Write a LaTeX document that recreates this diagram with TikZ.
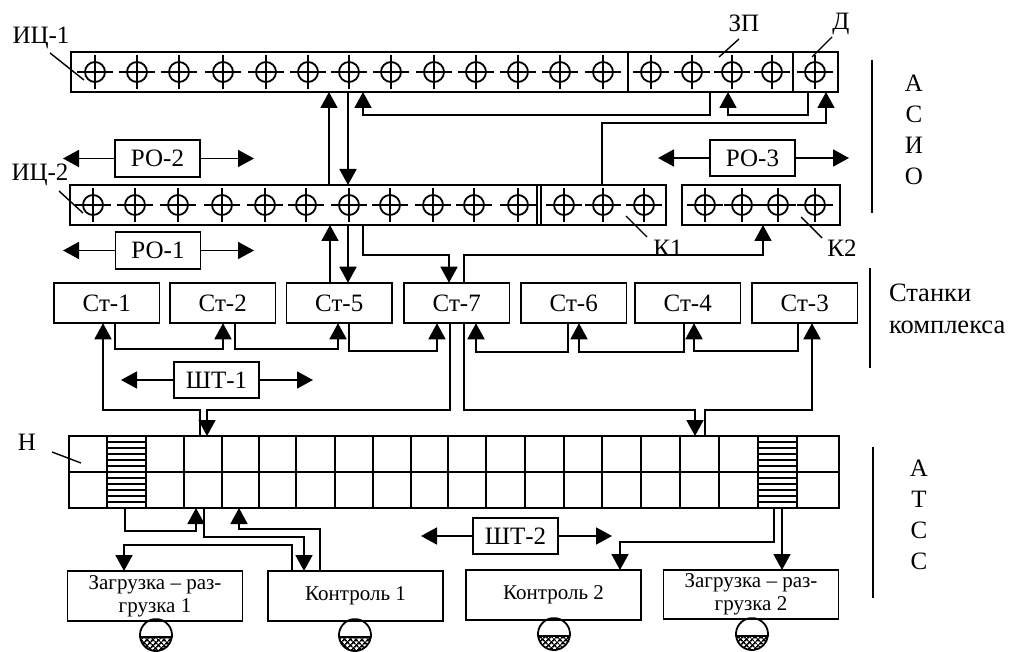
\documentclass[tikz,border=0pt]{standalone}
\usepackage{fontspec}
\setmainfont{Liberation Serif}
\usetikzlibrary{arrows.meta,positioning,patterns.meta}

\begin{document}
\begin{tikzpicture}[
  x=1pt, y=-1pt, line width=1.8pt,
  font=\fontsize{25}{31}\selectfont,
  box/.style={draw, inner sep=0pt, outer sep=0pt, align=center},
  rail/.style={box, minimum height=40pt},
  st/.style={box, minimum width=105.5pt, minimum height=40.5pt},
  po/.style={box, minimum width=85pt, minimum height=36.5pt},
  dock/.style={box, font=\fontsize{21}{24}\selectfont, minimum width=175pt, minimum height=50pt},
  lab/.style={inner sep=0pt, outer sep=0pt, align=center},
  ar/.style={-{Triangle[length=16pt,width=17pt]}},
  tick/.style={line width=1.4pt},
  sensor/.pic={
    \draw (0,0) circle (10pt);
    \draw (-18,0) -- (18,0) (0,-17) -- (0,17);
  },
  cart/.pic={
    \draw[pattern={Lines[angle=45,distance=4pt,line width=1.7pt]}]
      (-15.9,-2) arc[start angle=187, end angle=353, radius=16pt] -- cycle;
    \path[pattern={Lines[angle=-45,distance=4pt,line width=1.7pt]}]
      (-15.9,-2) arc[start angle=187, end angle=353, radius=16pt] -- cycle;
    \draw (-15.9,-2) arc[start angle=187, end angle=-7, radius=16pt];
  }]
  \useasboundingbox (0,0) rectangle (1012,652);

  % position sensor rails
  \node[rail, minimum width=767pt] (ic1) at (454.5,72) {};
  \node[rail, minimum width=596pt] (ic2) at (368,205) {};
  \node[rail, minimum width=158pt] (k2) at (761,205) {};
  \draw (628,0 |- ic1.north) -- (628,0 |- ic1.south);
  \draw (793,0 |- ic1.north) -- (793,0 |- ic1.south);
  \draw (537,0 |- ic2.north) -- (537,0 |- ic2.south);
  \draw (541,0 |- ic2.north) -- (541,0 |- ic2.south);
  \foreach \x in {95,137,179,223,266,308,349,391,434,476,518,560,603,651,692,732,772,815}
    \pic at (\x,72) {sensor};
  \foreach \x in {93,135,178,222,265,306,349,390,433,474,518,564,603,644,705,742,778,815}
    \pic at (\x,205) {sensor};

  \node[po] (po2) at (157.5,158.5) {РО-2};
  \node[po] (po3) at (752.5,158) {РО-3};
  \node[po] (po1) at (158,250.5) {РО-1};
  \node[po] (sht1) at (216.5,380) {ШТ-1};
  \node[po] (sht2) at (515.5,536) {ШТ-2};
  \foreach \n/\l/\r in {po2/63/254, po3/658/849, po1/63/254, sht1/121/313, sht2/421/612} {
    \draw[ar] (\n.west) -- (\l,0 |- \n.west);
    \draw[ar] (\n.east) -- (\r,0 |- \n.east);
  }

  % machines
  \node[st] (st1) at (106.75,303) {Ст-1};
  \node[st, right=10.5pt of st1] (st2) {Ст-2};
  \node[st, right=11pt of st2] (st5) {Ст-5};
  \node[st, right=12pt of st5] (st7) {Ст-7};
  \node[st, right=11.5pt of st7] (st6) {Ст-6};
  \node[st, right=8.5pt of st6] (st4) {Ст-4};
  \node[st, right=11.5pt of st4] (st3) {Ст-3};

  % storage
  \node[box, minimum width=770pt, minimum height=72pt] (nak) at (454,472) {};
  \draw (nak.west) -- (nak.east);
  \foreach \x in {107,146,184,222,259,296,335,373,411,448,486,525,564,602,641,680,719,758,797}
    \draw (\x,0 |- nak.north) -- (\x,0 |- nak.south);
  \foreach \x in {107,758}
    \foreach \y in {442,448,...,502}
      \draw (\x,\y) -- (\x+39,\y);

  % loading and control
  \node[dock] (zr1) at (155,596) {Загрузка – раз-\\[-1pt]грузка 1};
  \node[dock] (kon1) at (355.5,596) {Контроль 1};
  \node[dock] (kon2) at (553.5,595) {Контроль 2};
  \node[dock, minimum height=49pt] (zr2) at (751,594.5) {Загрузка – раз-\\[-1pt]грузка 2};
  \foreach \x/\y in {156/639, 355/639, 554/638, 752/638}
    \pic at (\x,\y) {cart};

  % upper links
  \draw[ar] (329,0 |- ic2.north) -- (329,0 |- ic1.south);
  \draw[ar] (348,0 |- ic1.south) -- (348,0 |- ic2.north);
  \draw[ar] (710,0 |- ic1.south) |- (363,115) -- (363,0 |- ic1.south);
  \draw[ar] (808,0 |- ic1.south) |- (728,115) -- (728,0 |- ic1.south);
  \draw[ar] (602,0 |- ic2.north) |- (826,123) -- (826,0 |- ic1.south);
  \draw[ar] (330,0 |- st5.north) -- (330,0 |- ic2.south);
  \draw[ar] (348,0 |- ic2.south) -- (348,0 |- st5.north);
  \draw[ar] (363,0 |- ic2.south) |- (449,255) -- (449,0 |- st7.north);
  \draw[ar] (464,0 |- st7.north) |- (763,255) -- (763,0 |- k2.south);

  % machine links
  \draw[ar] (115,0 |- st1.south) |- (223,349) -- (223,0 |- st2.south);
  \draw[ar] (235,0 |- st2.south) |- (338,349) -- (338,0 |- st5.south);
  \draw[ar] (349,0 |- st5.south) |- (437,351) -- (437,0 |- st7.south);
  \draw[ar] (568,0 |- st6.south) |- (476,352) -- (476,0 |- st7.south);
  \draw[ar] (684,0 |- st4.south) |- (579,352) -- (579,0 |- st6.south);
  \draw[ar] (798,0 |- st3.south) |- (694,351) -- (694,0 |- st4.south);
  \draw[ar] (200,0 |- nak.north) |- (103,410) -- (103,0 |- st1.south);
  \draw[ar] (450,0 |- st7.south) |- (207,410) -- (207,0 |- nak.north);
  \draw[ar] (464,0 |- st7.south) |- (695,410) -- (695,0 |- nak.north);
  \draw[ar] (705,0 |- nak.north) |- (812,410) -- (812,0 |- st3.south);

  % storage links
  \draw[ar] (125,0 |- nak.south) |- (196,531) -- (196,0 |- nak.south);
  \draw[ar] (204,0 |- nak.south) |- (304,537) -- (304,0 |- kon1.north);
  \draw[ar] (320,0 |- kon1.north) |- (239,529) -- (239,0 |- nak.south);
  \draw[ar] (292,0 |- kon1.north) |- (124,545) -- (124,0 |- zr1.north);
  \draw[ar] (774,0 |- nak.south) |- (620,542) -- (620,0 |- kon2.north);
  \draw[ar] (782,0 |- nak.south) -- (782,0 |- zr2.north);

  % labels
  \node[lab] (lic1) at (41,38) {ИЦ-1};
  \node[lab] (lic2) at (40,175) {ИЦ-2};
  \node[lab] (lzp) at (744,23) {ЗП};
  \node[lab] (ld) at (841,24) {Д};
  \node[lab] (lk1) at (668,248) {К1};
  \node[lab] (lk2) at (842,248) {К2};
  \node[lab] (ln) at (27,442) {Н};
  \draw[tick] (50,53) -- (84,80);
  \draw[tick] (59,191) -- (83,213);
  \draw[tick] (739,39) -- (719,57);
  \draw[tick] (832,37) -- (812,57);
  \draw[tick] (626,216) -- (647,237);
  \draw[tick] (801,217) -- (822,238);
  \draw[tick] (52,452) -- (81,463);

  % side notes
  \draw (872,60) -- (872,213);
  \draw (870,268) -- (870,368);
  \draw (873,447) -- (873,598);
  \node[lab] (asio) at (914,130) {А\\С\\И\\О};
  \node[lab, align=left, anchor=west, font=\fontsize{26.5}{32}\selectfont] (stanki) at (889,309) {Станки\\комплекса};
  \node[lab] (atss) at (919,515) {А\\Т\\С\\С};
\end{tikzpicture}
\end{document}
